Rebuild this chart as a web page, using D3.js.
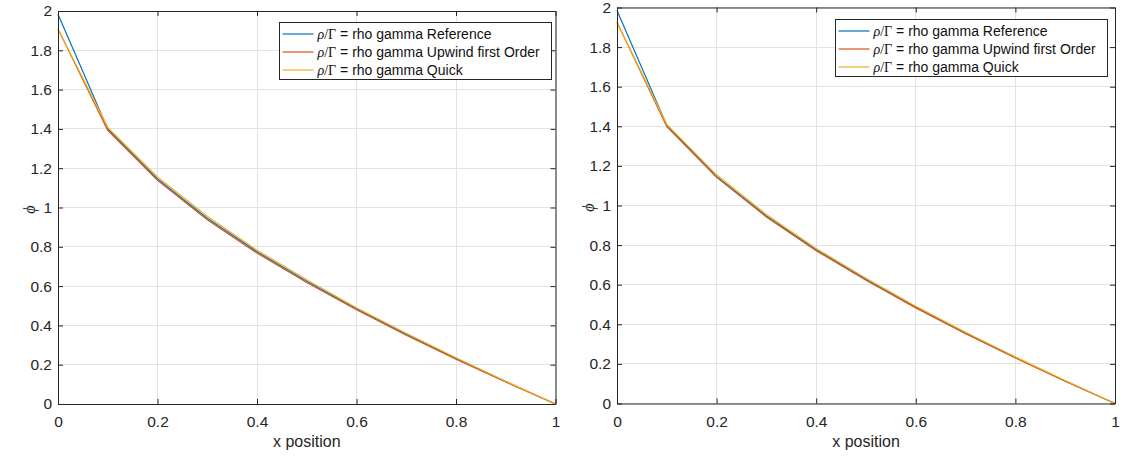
<!DOCTYPE html>
<html><head><meta charset="utf-8">
<script src="https://cdn.jsdelivr.net/npm/d3@7"></script>
<style>
body{margin:0;background:#fff;}
svg{display:block;font-family:"Liberation Sans",Arial,Helvetica,sans-serif;}
</style></head>
<body>
<svg id="c" width="1121" height="460"></svg>
<script>
const xValues = [0, 0.1, 0.2, 0.3, 0.4, 0.5, 0.6, 0.7, 0.8, 0.9, 1.0];
const leftReference = [1.983, 1.400, 1.145, 0.945, 0.775, 0.625, 0.485, 0.355, 0.232, 0.114, 0];
const leftUpwind    = [1.908, 1.393, 1.138, 0.938, 0.768, 0.618, 0.480, 0.350, 0.228, 0.112, 0];
const leftQuick     = [1.908, 1.408, 1.155, 0.955, 0.783, 0.632, 0.490, 0.360, 0.235, 0.116, 0];
const rightReference = [1.985, 1.404, 1.147, 0.947, 0.777, 0.627, 0.487, 0.356, 0.233, 0.114, 0];
const rightUpwind    = [1.925, 1.398, 1.142, 0.942, 0.772, 0.622, 0.483, 0.352, 0.230, 0.112, 0];
const rightQuick     = [1.925, 1.410, 1.155, 0.955, 0.783, 0.633, 0.491, 0.360, 0.235, 0.116, 0];
const xTicks = [0, 0.2, 0.4, 0.6, 0.8, 1];
const yTicks = [0, 0.2, 0.4, 0.6, 0.8, 1, 1.2, 1.4, 1.6, 1.8, 2];
const seriesNames = ["rho gamma Reference", "rho gamma Upwind first Order", "rho gamma Quick"];
const seriesColors = ["#0072BD", "#D95319", "#EDB120"];

const svg = d3.select("#c");
const axisColor = "#262626";

function panel(box, series, legendBox) {
  const x = d3.scaleLinear().domain([0, 1]).range([box.l, box.r]);
  const y = d3.scaleLinear().domain([0, 2]).range([box.b, box.t]);
  const g = svg.append("g");
  g.append("g").selectAll("line").data(xTicks).join("line")
    .attr("x1", d => x(d)).attr("x2", d => x(d)).attr("y1", box.t).attr("y2", box.b)
    .attr("stroke", "#e3e3e3").attr("stroke-width", 1).attr("shape-rendering", "crispEdges");
  g.append("g").selectAll("line").data(yTicks).join("line")
    .attr("y1", d => y(d)).attr("y2", d => y(d)).attr("x1", box.l).attr("x2", box.r)
    .attr("stroke", "#e3e3e3").attr("stroke-width", 1).attr("shape-rendering", "crispEdges");
  const line = d3.line().x((d, i) => x(xValues[i])).y(d => y(d));
  series.forEach((s, i) => {
    g.append("path").datum(s).attr("d", line).attr("fill", "none")
      .attr("stroke", seriesColors[i]).attr("stroke-width", 1.2);
  });
  const tl = 5;
  const ax = g.append("g").attr("transform", `translate(0,${box.b})`)
    .call(d3.axisBottom(x).tickValues(xTicks).tickSizeInner(-tl).tickSizeOuter(0).tickPadding(12).tickFormat(d3.format("~g")));
  const axT = g.append("g").attr("transform", `translate(0,${box.t})`)
    .call(d3.axisTop(x).tickValues(xTicks).tickSizeInner(-tl).tickSizeOuter(0).tickFormat(""));
  const ay = g.append("g").attr("transform", `translate(${box.l},0)`)
    .call(d3.axisLeft(y).tickValues(yTicks).tickSizeInner(-tl).tickSizeOuter(0).tickPadding(6).tickFormat(d3.format("~g")));
  const ayR = g.append("g").attr("transform", `translate(${box.r},0)`)
    .call(d3.axisRight(y).tickValues(yTicks).tickSizeInner(-tl).tickSizeOuter(0).tickFormat(""));
  [ax, axT, ay, ayR].forEach(a => {
    a.select(".domain").attr("stroke", axisColor).attr("stroke-width", 1);
    a.selectAll(".tick line").attr("stroke", axisColor);
    a.selectAll("text").attr("fill", axisColor).attr("font-size", "15.5px")
      .attr("font-family", '"Liberation Sans",Arial,sans-serif');
  });
  ax.selectAll("text").attr("dy", "0.71em");
  g.append("text").attr("x", (box.l + box.r) / 2).attr("y", box.b + 43)
    .attr("text-anchor", "middle").attr("font-size", "16px").attr("fill", axisColor).text("x position");
  g.append("text").attr("transform", `translate(${box.l - 23},${(box.t + box.b) / 2 + 2}) rotate(-90)`)
    .attr("text-anchor", "middle").attr("font-size", "16px").attr("fill", axisColor)
    .attr("font-family", '"Liberation Serif","Times New Roman",serif').attr("font-style", "italic").text("\u03D5");
  const lg = g.append("g");
  lg.append("rect").attr("x", legendBox.l).attr("y", legendBox.t)
    .attr("width", legendBox.w).attr("height", legendBox.h)
    .attr("fill", "#fff").attr("stroke", axisColor).attr("stroke-width", 1).attr("shape-rendering", "crispEdges");
  seriesNames.forEach((name, i) => {
    const cy = legendBox.t + 11.5 + i * 18;
    lg.append("line").attr("x1", legendBox.l + 3).attr("x2", legendBox.l + 34)
      .attr("y1", cy).attr("y2", cy).attr("stroke", seriesColors[i]).attr("stroke-width", 1.2);
    const t = lg.append("text").attr("x", legendBox.l + 38).attr("y", cy).attr("dy", "0.35em")
      .attr("font-size", "14px").attr("fill", "#111");
    t.append("tspan").attr("font-family", '"Liberation Serif","Times New Roman",serif')
      .attr("font-style", "italic").text("\u03C1");
    t.append("tspan").attr("font-family", '"Liberation Serif","Times New Roman",serif').text("/\u0393");
    t.append("tspan").text(" = " + name);
  });
}

panel({l: 58, r: 555.5, t: 11, b: 404}, [leftReference, leftUpwind, leftQuick],
      {l: 279.5, t: 22.5, w: 272, h: 57});
panel({l: 617, r: 1115, t: 7.5, b: 403.5}, [rightReference, rightUpwind, rightQuick],
      {l: 835.5, t: 19.5, w: 272, h: 57});
</script>
</body></html>
